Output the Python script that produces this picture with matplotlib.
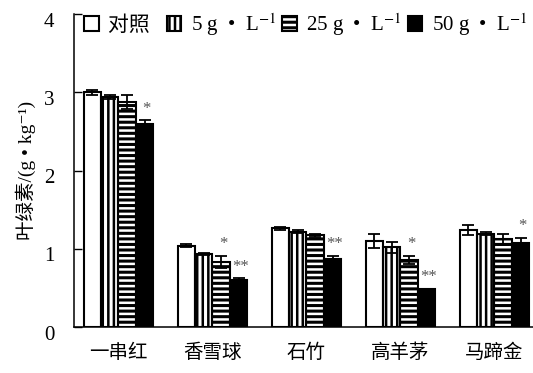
"""Chlorophyll content of five turf / bedding species under salt treatment.

Grouped bars (control, 5, 25, 50 g/L) with SE whiskers and significance
stars, saved to out.png.
"""

import matplotlib

matplotlib.use("Agg")
import matplotlib.pyplot as plt
import numpy as np
from matplotlib.transforms import ScaledTranslation

plt.rcParams["font.family"] = ["Liberation Serif", "Noto Sans CJK SC", "DejaVu Serif"]
plt.rcParams["mathtext.fontset"] = "stix"
plt.rcParams["hatch.linewidth"] = 1.8

# --------------------------------------------------------------- data

species = ["一串红", "香雪球", "石竹", "高羊茅", "马蹄金"]
treatments = ["对照  ", "5 g  •  L$^{-1}$", "25 g  •  L$^{-1}$", "50 g  •  L$^{-1}$"]

ctrl = [3.00, 1.04, 1.26, 1.10, 1.24]
ctrl_err = [0.03, 0.02, 0.02, 0.09, 0.07]
salt5 = [2.94, 0.93, 1.22, 1.02, 1.19]
salt5_err = [0.02, 0.01, 0.02, 0.07, 0.02]
salt25 = [2.88, 0.83, 1.17, 0.86, 1.12]
salt25_err = [0.09, 0.08, 0.02, 0.05, 0.07]
salt50 = [2.59, 0.60, 0.87, 0.48, 1.08]
salt50_err = [0.05, 0.02, 0.04, 0.01, 0.06]

# significance vs control, one string per species
sig5 = ["", "", "", "", ""]
sig25 = ["", "*", "", "*", ""]
sig50 = ["*", "**", "**", "**", "*"]
sig_ctrl = ["", "", "", "", ""]

yticks = [0, 1, 2, 3, 4]

# --------------------------------------------------------------- figure

fig = plt.figure(figsize=(5.33, 3.73), dpi=100)
ax = fig.add_axes([0.1388, 0.1233, 0.8612, 0.8391])

x = np.arange(len(species))
width = 0.185
offsets = (np.arange(4) - 1.5) * width

series = [
    (ctrl, ctrl_err, sig_ctrl),
    (salt5, salt5_err, sig5),
    (salt25, salt25_err, sig25),
    (salt50, salt50_err, sig50),
]
styles = [
    dict(face="white", hatch_color="black", hatch=None),
    dict(face="white", hatch_color="black", hatch="|||"),
    dict(face="black", hatch_color="white", hatch="---"),
    dict(face="black", hatch_color="black", hatch=None),
]

handles = []
for (vals, errs, sig), st, off in zip(series, styles, offsets):
    xs = x + off
    # fill + hatch first (hatch takes the edge colour), then a black outline
    fill = ax.bar(xs, vals, width, color=st["face"], edgecolor=st["hatch_color"],
                  hatch=st["hatch"], linewidth=0, zorder=2)
    outline = ax.bar(xs, vals, width, fill=False, edgecolor="black",
                     linewidth=1.5, zorder=2.5)
    ax.errorbar(xs, vals, yerr=errs, fmt="none", ecolor="black",
                elinewidth=1.3, capsize=4.5, capthick=1.3, zorder=3)
    for xi, v, e, s in zip(xs, vals, errs, sig):
        if s:
            ax.text(xi + 0.02, v + e + 0.15, s, ha="center", va="center",
                    fontsize=12, color="#555555")
    handles.append((fill[0], outline[0]))

ax.set_xlim(-0.473, 4.41)
ax.set_ylim(0, 4)
ax.set_xticks(x)
ax.set_xticklabels(species)
ax.set_yticks(yticks)
ax.tick_params(axis="x", length=0, pad=12, labelsize=14)
ax.tick_params(axis="y", direction="in", length=5.5, width=1, pad=14,
               labelsize=15)
# y labels sit a little below their ticks
shift = ScaledTranslation(0, -4 / 72, fig.dpi_scale_trans)
for lab in ax.get_yticklabels():
    lab.set_transform(lab.get_transform() + shift)
ax.spines["top"].set_visible(False)
ax.spines["right"].set_visible(False)
ax.spines["left"].set_linewidth(1.1)
ax.spines["bottom"].set_linewidth(1.1)

ax.set_ylabel("叶绿素/(g • kg⁻¹)", fontsize=14, labelpad=6)

ax.legend(handles, treatments, loc="upper left", bbox_to_anchor=(-0.005, 1.05),
          ncol=4, frameon=False, fontsize=15, handlelength=0.7,
          handleheight=0.7, handletextpad=0.45, columnspacing=0.3,
          borderaxespad=0.2)

fig.savefig("out.png", dpi=100)
plt.close(fig)
